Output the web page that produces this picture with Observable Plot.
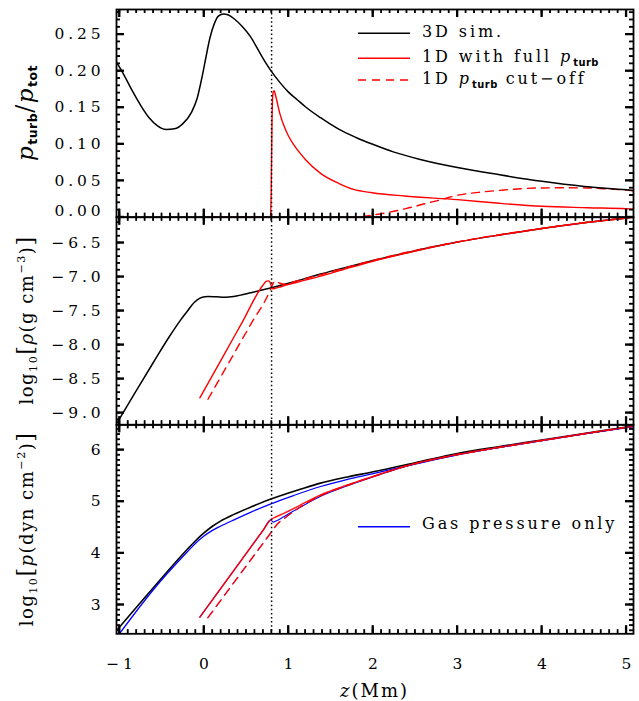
<!DOCTYPE html>
<html><head><meta charset="utf-8">
<script src="https://cdn.jsdelivr.net/npm/d3@7"></script>
<script src="https://cdn.jsdelivr.net/npm/@observablehq/plot@0.6"></script>
<style>
body{margin:0;background:#fff;}
#chart{position:relative;width:639px;height:701px;background:#fff;}
#chart svg{position:absolute;left:0;top:0;background:transparent;overflow:visible;}
</style></head><body><div id="chart"></div>
<script>
// ---------- x axis ----------
const xDomain = [-1.036, 5.085];
const xMajor = [-1, 0, 1, 2, 3, 4, 5];
const xMinor = d3.range(-10, 51).map(i => i / 10);
const zBoundary = [0.8];

// ---------- top panel: p_turb / p_tot ----------
const zTop3D = [-1.036, -0.95, -0.85, -0.75, -0.65, -0.55, -0.45, -0.35, -0.25, -0.15, -0.08, -0.03, 0.02, 0.07, 0.12, 0.17, 0.23, 0.29, 0.36, 0.45, 0.55, 0.65, 0.72, 0.8, 0.9, 1.0, 1.1, 1.2, 1.38, 1.6, 1.8, 1.99, 2.25, 2.56, 3.0, 3.5, 4.0, 4.5, 5.0, 5.085];
const ratio3D = [0.212, 0.195, 0.173, 0.153, 0.136, 0.125, 0.120, 0.121, 0.128, 0.143, 0.163, 0.188, 0.217, 0.245, 0.264, 0.275, 0.278, 0.2765, 0.271, 0.261, 0.247, 0.227, 0.213, 0.199, 0.184, 0.171, 0.161, 0.151, 0.136, 0.120, 0.109, 0.100, 0.089, 0.079, 0.068, 0.058, 0.049, 0.042, 0.0375, 0.0365];
const zTopFull = [-0.05, 0.785, 0.795, 0.805, 0.815, 0.83, 0.85, 0.9, 0.95, 1.0, 1.1, 1.2, 1.38, 1.6, 1.77, 1.99, 2.37, 3.0, 3.5, 4.0, 4.54, 5.0, 5.085];
const ratioFull = [0, 0, 0.03, 0.13, 0.168, 0.173, 0.165, 0.141, 0.124, 0.111, 0.093, 0.079, 0.060, 0.046, 0.038, 0.0335, 0.029, 0.024, 0.019, 0.015, 0.013, 0.0115, 0.011];
const zTopCut = [0.05, 1.8, 2.0, 2.2, 2.4, 2.6, 2.84, 3.0, 3.25, 3.5, 3.75, 4.0, 4.27, 4.54, 4.8, 5.0, 5.085];
const ratioCut = [0, 0, 0.003, 0.007, 0.012, 0.018, 0.025, 0.030, 0.034, 0.0367, 0.039, 0.040, 0.0402, 0.040, 0.0385, 0.0370, 0.0362];
const yTopMajor = [0.05, 0.10, 0.15, 0.20, 0.25];
const yTopZero = [0];
const yTopMinor = d3.range(0, 29).map(i => i / 100);

// ---------- middle panel: log10 rho ----------
const zMid3D = [-1.036, -0.8, -0.6, -0.4, -0.28, -0.2, -0.14, -0.08, -0.03, 0.05, 0.15, 0.25, 0.35, 0.45, 0.55, 0.7, 0.8, 1.0, 1.2, 1.38, 1.7, 1.99, 2.49, 3.0, 3.5, 4.0, 4.5, 5.0, 5.085];
const rho3D = [-9.16, -8.67, -8.26, -7.86, -7.64, -7.51, -7.41, -7.34, -7.305, -7.29, -7.295, -7.30, -7.29, -7.265, -7.235, -7.19, -7.16, -7.095, -7.025, -6.96, -6.855, -6.765, -6.62, -6.49, -6.385, -6.29, -6.205, -6.135, -6.122];
const zMidFull = [-0.049, 0.2, 0.45, 0.70, 0.74, 0.765, 0.785, 0.80, 0.815, 0.84, 0.9, 0.95, 1.1, 1.38, 1.7, 1.99, 2.49, 3.0, 3.5, 4.0, 4.5, 5.0, 5.085];
const rhoFull = [-8.78, -8.228, -7.674, -7.12, -7.065, -7.06, -7.09, -7.15, -7.175, -7.17, -7.15, -7.13, -7.08, -6.99, -6.875, -6.775, -6.625, -6.49, -6.385, -6.29, -6.205, -6.135, -6.122];
const zMidCut = [0.047, 0.3, 0.55, 0.783, 0.80, 0.82, 0.845, 0.87, 0.95, 1.1, 1.38, 1.7, 1.99, 2.49, 3.0, 3.5, 4.0, 4.5, 5.0, 5.085];
const rhoCut = [-8.80, -8.25, -7.706, -7.20, -7.15, -7.09, -7.06, -7.08, -7.11, -7.06, -6.97, -6.86, -6.762, -6.615, -6.487, -6.38, -6.29, -6.205, -6.135, -6.122];
const yMidMajor = [-9.0, -8.5, -8.0, -7.5, -7.0, -6.5];
const yMidMinor = d3.range(-91, -61).map(i => i / 10);

// ---------- bottom panel: log10 p ----------
const zBot3D = [-1.036, -0.6, -0.2, -0.1, 0.0, 0.1, 0.2, 0.355, 0.55, 0.8, 0.95, 1.14, 1.38, 1.7, 1.99, 2.5, 3.0, 3.5, 4.0, 4.5, 5.0, 5.085];
const p3D = [2.50, 3.33, 4.07, 4.24, 4.39, 4.52, 4.625, 4.75, 4.89, 5.055, 5.135, 5.235, 5.355, 5.475, 5.57, 5.75, 5.93, 6.065, 6.19, 6.315, 6.44, 6.46];
const zBotGas3D = [-1.0, -0.6, -0.2, -0.1, 0.0, 0.1, 0.2, 0.355, 0.55, 0.8, 1.06, 1.38, 1.7, 1.99, 2.5, 3.0, 3.5, 4.0, 4.5, 5.0, 5.085];
const pGas3D = [2.44, 3.29, 4.02, 4.19, 4.33, 4.44, 4.525, 4.645, 4.79, 4.96, 5.115, 5.29, 5.43, 5.535, 5.725, 5.905, 6.05, 6.18, 6.31, 6.43, 6.45];
const zBotFull = [-0.049, 0.2, 0.45, 0.7, 0.79, 0.85, 0.946, 1.14, 1.38, 1.7, 1.99, 2.49, 3.0, 3.5, 4.0, 4.5, 5.0, 5.085];
const pFull = [2.76, 3.32, 3.88, 4.443, 4.645, 4.70, 4.77, 4.93, 5.125, 5.32, 5.48, 5.73, 5.91, 6.05, 6.18, 6.31, 6.435, 6.455];
const zBotGasFull = [-0.049, 0.2, 0.45, 0.7, 0.79, 0.80, 0.82, 0.85, 0.95, 1.14, 1.38, 1.7, 1.99, 2.49, 3.0, 3.5, 4.0, 4.5, 5.0, 5.085];
const pGasFull = [2.76, 3.32, 3.88, 4.443, 4.645, 4.63, 4.60, 4.62, 4.71, 4.89, 5.10, 5.305, 5.47, 5.725, 5.905, 6.045, 6.178, 6.308, 6.433, 6.453];
const zBotCut = [0.046, 0.3, 0.55, 0.8, 0.867, 0.95, 1.1, 1.38, 1.7, 1.99, 2.49, 3.0, 3.5, 4.0, 4.5, 5.0, 5.085];
const pCut = [2.75, 3.31, 3.861, 4.412, 4.56, 4.67, 4.85, 5.11, 5.315, 5.475, 5.728, 5.908, 6.048, 6.18, 6.31, 6.435, 6.455];
const yBotMajor = [3, 4, 5, 6];
const yBotMinor = d3.range(25, 65).map(i => i / 10);

// ---------- helpers ----------
const tbl = (zs, vs) => zs.map((z, i) => ({z, v: vs[i]}));
const L = 116, R = 633, W = 639, H = 701;
const LS = 3.8;

function line(zs, vs, stroke, extra = {}) {
  return Plot.line(tbl(zs, vs), {x: "z", y: "v", stroke, strokeWidth: 1.4, curve: "monotone-x", clip: true, ...extra});
}

function panel(cfg) {
  const h = cfg.bottom - cfg.top, w = R - L;
  const tx = (vals, len, sw, side) => Plot.ruleX(vals, {stroke: "black", strokeWidth: sw,
    ...(side === "bottom" ? {insetTop: h - len} : {insetBottom: h - len})});
  const ty = (vals, len, sw, side) => Plot.ruleY(vals, {stroke: "black", strokeWidth: sw,
    ...(side === "left" ? {insetRight: w - len} : {insetLeft: w - len})});
  return Plot.plot({
    width: W, height: H,
    marginLeft: L, marginRight: W - R, marginTop: cfg.top, marginBottom: H - cfg.bottom,
    x: {domain: xDomain, axis: null},
    y: {domain: cfg.yDomain, axis: null},
    style: {background: "transparent", fontFamily: "'DejaVu Serif', serif", fontSize: "15.5px", letterSpacing: LS + "px", overflow: "visible"},
    marks: [
      ...cfg.marks,
      Plot.ruleX(zBoundary, {strokeDasharray: "1.5,2.6", strokeWidth: 1.5}),
      tx(xMinor, 4, 1.3, "bottom"), tx(xMajor, 8, 1.8, "bottom"),
      tx(xMinor, 4, 1.3, "top"), tx(xMajor, 8, 1.8, "top"),
      ty(cfg.yMinor, 4, 1.3, "left"), ty(cfg.yMajorAll, 8, 1.8, "left"),
      ty(cfg.yMinor, 4, 1.3, "right"), ty(cfg.yMajorAll, 8, 1.8, "right"),
      Plot.frame({strokeWidth: 1.8}),
      ...cfg.labels
    ]
  });
}

const fmt2 = d3.format(".2f"), fmt1 = d3.format(".1f"), fmt0 = d3.format("d");
const yLab = (ticks, format, extra = {}) => Plot.axisY(ticks, {anchor: "left", tickSize: 0, tickPadding: 16 - LS, tickFormat: format, label: null, ...extra});

const cfg1 = {
  top: 9, bottom: 216.7, yDomain: [0, 0.284],
  yMajorAll: [0, ...yTopMajor], yMinor: yTopMinor,
  marks: [
    line(zTopCut, ratioCut, "#ff0000", {strokeDasharray: "8,6"}),
    line(zTopFull, ratioFull, "#ff0000"),
    line(zTop3D, ratio3D, "black", {strokeWidth: 1.5})
  ],
  labels: [yLab(yTopMajor, fmt2), yLab(yTopZero, fmt2, {dy: -6})]
};
const cfg2 = {
  top: 216.7, bottom: 424.3, yDomain: [-9.176, -6.124],
  yMajorAll: yMidMajor, yMinor: yMidMinor,
  marks: [
    line(zMid3D, rho3D, "black", {strokeWidth: 1.5}),
    line(zMidCut, rhoCut, "#ff0000", {strokeDasharray: "8,6"}),
    line(zMidFull, rhoFull, "#ff0000")
  ],
  labels: [yLab(yMidMajor, fmt1)]
};
const cfg3 = {
  top: 424.3, bottom: 633.3, yDomain: [2.437, 6.485],
  yMajorAll: yBotMajor, yMinor: yBotMinor,
  marks: [
    line(zBot3D, p3D, "black", {strokeWidth: 1.6}),
    line(zBotGas3D, pGas3D, "#0000ff", {strokeWidth: 1.3}),
    line(zBotCut, pCut, "#0000ff", {strokeWidth: 1.0, strokeDasharray: "8,6"}),
    line(zBotGasFull, pGasFull, "#0000ff", {strokeWidth: 1.1}),
    line(zBotCut, pCut, "#ff0000", {strokeWidth: 1.5, strokeDasharray: "8,6", strokeOpacity: 0.9}),
    line(zBotFull, pFull, "#ff0000", {strokeWidth: 1.5, strokeOpacity: 0.9})
  ],
  labels: [
    yLab(yBotMajor, fmt0),
    Plot.axisX(xMajor, {anchor: "bottom", tickSize: 0, tickPadding: 24, dx: LS / 2, label: null})
  ]
};
const p1 = panel(cfg1), p2 = panel(cfg2), p3 = panel(cfg3);

const chart = document.getElementById("chart");
chart.append(p1, p2, p3);

// ---------- overlay: ticks, legends & axis titles ----------
const ov = d3.select(chart).append("svg").attr("width", W).attr("height", H)
  .style("font-family", "'DejaVu Serif', serif");

// inward ticks on all four sides of each panel, placed with that panel's own scales
[[p1, cfg1], [p2, cfg2], [p3, cfg3]].forEach(([p, cfg]) => {
  const sx = p.scale("x"), sy = p.scale("y");
  const g = ov.append("g").attr("stroke", "black").attr("fill", "none");
  const xt = (vals, len, sw) => vals.forEach(v => {
    const x = sx.apply(v);
    g.append("line").attr("x1", x).attr("x2", x).attr("y1", cfg.bottom).attr("y2", cfg.bottom - len).attr("stroke-width", sw);
    g.append("line").attr("x1", x).attr("x2", x).attr("y1", cfg.top).attr("y2", cfg.top + len).attr("stroke-width", sw);
  });
  const yt = (vals, len, sw) => vals.forEach(v => {
    const y = sy.apply(v);
    g.append("line").attr("x1", L).attr("x2", L + len).attr("y1", y).attr("y2", y).attr("stroke-width", sw);
    g.append("line").attr("x1", R).attr("x2", R - len).attr("y1", y).attr("y2", y).attr("stroke-width", sw);
  });
  xt(xMinor, 4, 1.3); xt(xMajor, 8, 1.8);
  yt(cfg.yMinor, 4, 1.3); yt(cfg.yMajorAll, 8, 1.8);
});

function subT(t, s, dy, size = "0.62em") {
  t.append("tspan").attr("font-family", "'DejaVu Sans', sans-serif").attr("font-weight", "bold")
    .attr("font-size", size).attr("letter-spacing", "0.5px").attr("dy", dy).text(s);
}
function legendRow(y, color, dash, build, dyText = 3.5) {
  ov.append("line").attr("x1", 358).attr("x2", 410).attr("y1", y).attr("y2", y)
    .attr("stroke", color).attr("stroke-width", 1.5).attr("stroke-dasharray", dash);
  const t = ov.append("text").attr("x", 422).attr("y", y + dyText).attr("font-size", 16).attr("letter-spacing", "2.9px");
  build(t);
}
legendRow(33.3, "black", null, t => t.text("3D sim."));
legendRow(58.3, "#ff0000", null, t => {
  t.append("tspan").text("1D with full ");
  t.append("tspan").attr("font-style", "italic").text("p");
  subT(t, "turb", 4);
});
legendRow(80, "#ff0000", "8,6", t => {
  t.append("tspan").text("1D ");
  t.append("tspan").attr("font-style", "italic").text("p");
  subT(t, "turb", 4);
  t.append("tspan").attr("dy", -4).text(" cut\u2212off");
});
legendRow(526.7, "#0000ff", null, t => t.text("Gas pressure only"), 2.5);

// x axis title
const xTitle = ov.append("text").attr("x", (L + R) / 2).attr("y", 696.5).attr("text-anchor", "middle")
  .attr("font-size", 18).attr("letter-spacing", "2px");
xTitle.append("tspan").attr("font-style", "italic").text("z");
xTitle.append("tspan").text("(Mm)");

// y axis titles
function yTitle(cy, build, size = 18) {
  const t = ov.append("text").attr("transform", `translate(33,${cy}) rotate(-90)`)
    .attr("text-anchor", "middle").attr("font-size", size).attr("letter-spacing", "1.5px");
  build(t);
}
yTitle(113, t => {
  t.append("tspan").attr("font-style", "italic").text("p");
  subT(t, "turb", 4, 12.5);
  t.append("tspan").attr("dy", -4).attr("font-size", 24).text("/");
  t.append("tspan").attr("font-style", "italic").text("p");
  subT(t, "tot", 4, 12.5);
}, 23);
yTitle(320, t => {
  t.append("tspan").text("log");
  t.append("tspan").attr("font-size", "0.62em").attr("dy", 4).text("10");
  t.append("tspan").attr("dy", -4).attr("font-size", 22).text("[");
  t.append("tspan").attr("font-style", "italic").text("\u03c1");
  t.append("tspan").text("(g cm");
  t.append("tspan").attr("font-size", "0.62em").attr("dy", -8).text("\u22123");
  t.append("tspan").attr("dy", 8).text(")");
  t.append("tspan").attr("font-size", 22).text("]");
});
yTitle(529, t => {
  t.append("tspan").text("log");
  t.append("tspan").attr("font-size", "0.62em").attr("dy", 4).text("10");
  t.append("tspan").attr("dy", -4).attr("font-size", 22).text("[");
  t.append("tspan").attr("font-style", "italic").text("p");
  t.append("tspan").text("(dyn cm");
  t.append("tspan").attr("font-size", "0.62em").attr("dy", -8).text("\u22122");
  t.append("tspan").attr("dy", 8).text(")");
  t.append("tspan").attr("font-size", 22).text("]");
});
</script></body></html>
